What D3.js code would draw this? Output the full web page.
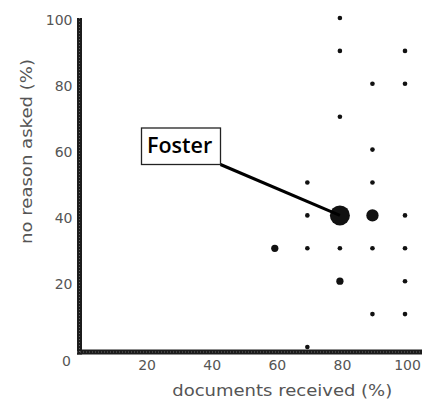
<!DOCTYPE html>
<html>
<head>
<meta charset="utf-8">
<script src="https://cdn.jsdelivr.net/npm/d3@7"></script>
<style>
  html, body { margin: 0; padding: 0; background: #fff; }
  svg { display: block; }
</style>
</head>
<body>
<svg id="chart" width="435" height="402"></svg>
<script>
// ---- data ----
const docsReceived  = [80, 80, 100, 90, 100, 80, 90, 70, 90, 70, 80, 90, 100, 60, 70, 80, 90, 100, 80, 100, 90, 100, 70];
const noReasonAsked = [100, 90, 90, 80, 80, 70, 60, 50, 50, 40, 40, 40, 40, 30, 30, 30, 30, 30, 20, 20, 10, 10, 0];
const agencyCount   = [1, 1, 1, 1, 1, 1, 1, 1, 1, 1, 12, 5, 1, 2, 1, 1, 1, 1, 2, 1, 1, 1, 1];
const highlightName = "Foster";
const highlightX = 80;
const highlightY = 40;
const xTicks = [20, 40, 60, 80, 100];
const yTicks = [20, 40, 60, 80, 100];
const cornerLabel = "0";
const xTitle = "documents received (%)";
const yTitle = "no reason asked (%)";

// ---- layout ----
const svg = d3.select("#chart");
const x = d3.scaleLinear().domain([0, 100]).range([79.5, 405]);
const y = d3.scaleLinear().domain([0, 100]).range([347, 18]);
const r = d3.scaleSqrt().domain([0, 12]).range([-0.8, 10]);

const axisColor = "#1c1c1c";
const textColor = "#555";

// axis lines (thick, slightly textured)
const xAxisY = y(0) + 5;
const axes = svg.append("g");
axes.append("line")
  .attr("x1", x(0) - 2.5).attr("x2", 422)
  .attr("y1", xAxisY).attr("y2", xAxisY)
  .attr("stroke", axisColor).attr("stroke-width", 5);
axes.append("line")
  .attr("x1", x(0)).attr("x2", x(0))
  .attr("y1", y(100)).attr("y2", xAxisY + 2.5)
  .attr("stroke", axisColor).attr("stroke-width", 5);
axes.append("line")
  .attr("x1", x(0) - 2.5).attr("x2", 422)
  .attr("y1", xAxisY).attr("y2", xAxisY)
  .attr("stroke", "#666").attr("stroke-width", 1)
  .attr("stroke-dasharray", "1,2");
axes.append("line")
  .attr("x1", x(0)).attr("x2", x(0))
  .attr("y1", y(100)).attr("y2", xAxisY + 2.5)
  .attr("stroke", "#666").attr("stroke-width", 1)
  .attr("stroke-dasharray", "1,2");

// tick labels via d3 axes
const yAxis = svg.append("g")
  .attr("transform", `translate(${x(0) - 5},2.5)`)
  .call(d3.axisLeft(y).tickValues(yTicks).tickSize(0).tickPadding(2));
yAxis.select(".domain").remove();
yAxis.selectAll("text")
  .attr("font-family", "DejaVu Sans, sans-serif")
  .attr("font-size", 14)
  .attr("fill", textColor);

const xAxis = svg.append("g")
  .attr("transform", `translate(2,${xAxisY + 4})`)
  .call(d3.axisBottom(x).tickValues(xTicks).tickSize(0).tickPadding(4));
xAxis.select(".domain").remove();
xAxis.selectAll("text")
  .attr("font-family", "DejaVu Sans, sans-serif")
  .attr("font-size", 14)
  .attr("fill", textColor);

svg.append("text")
  .attr("x", x(0) - 13).attr("y", xAxisY + 10)
  .attr("text-anchor", "middle").attr("dominant-baseline", "middle")
  .attr("font-family", "DejaVu Sans, sans-serif")
  .attr("font-size", 14).attr("fill", textColor)
  .text(cornerLabel);

// axis titles
svg.append("text")
  .attr("x", (x(0) + x(100)) / 2 + 40).attr("y", 396)
  .attr("text-anchor", "middle")
  .attr("font-family", "DejaVu Sans, sans-serif")
  .attr("font-size", 16).attr("fill", textColor)
  .attr("textLength", 220).attr("lengthAdjust", "spacingAndGlyphs")
  .text(xTitle);

svg.append("text")
  .attr("transform", `translate(32,${(y(0) + y(100)) / 2 - 31}) rotate(-90)`)
  .attr("text-anchor", "middle")
  .attr("font-family", "DejaVu Sans, sans-serif")
  .attr("font-size", 16).attr("fill", textColor)
  .attr("textLength", 185).attr("lengthAdjust", "spacingAndGlyphs")
  .text(yTitle);

// points
const pts = docsReceived.map((d, i) => ({ x: d, y: noReasonAsked[i], n: agencyCount[i] }));
svg.append("g").selectAll("circle")
  .data(pts).join("circle")
  .attr("cx", d => x(d.x))
  .attr("cy", d => y(d.y))
  .attr("r", d => r(d.n))
  .attr("fill", "#111");

// annotation
const box = { left: 141.5, top: 128, w: 79, h: 36.5 };
const ann = svg.append("g");
ann.append("line")
  .attr("x1", box.left + box.w).attr("y1", box.top + box.h)
  .attr("x2", x(highlightX)).attr("y2", y(highlightY))
  .attr("stroke", "#000").attr("stroke-width", 3);
ann.append("rect")
  .attr("x", box.left).attr("y", box.top)
  .attr("width", box.w).attr("height", box.h)
  .attr("fill", "#fff").attr("stroke", "#222").attr("stroke-width", 1.3);
ann.append("text")
  .attr("x", box.left + 5.5).attr("y", box.top + 24.5)
  .attr("font-family", "Open Sans, sans-serif")
  .attr("font-size", 21.5).attr("font-weight", 600).attr("fill", "#000")
  .text(highlightName);
</script>
</body>
</html>
